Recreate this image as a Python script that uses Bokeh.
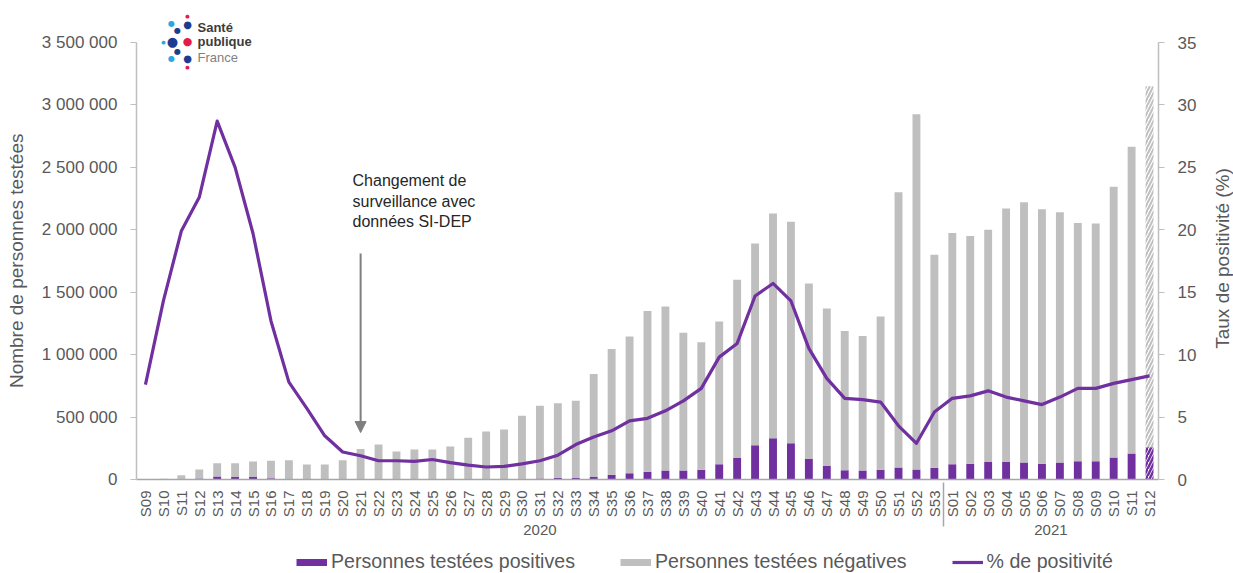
import math
from bokeh.plotting import figure
from bokeh.layouts import column, row
from bokeh.models import (ColumnDataSource, FactorRange, Range1d, LinearAxis, FixedTicker,
                          Legend, LegendItem, Label, Arrow, NormalHead)
from bokeh.embed import file_html
from bokeh.resources import INLINE

# ---------------- data ----------------
weeks_2020 = ["S09", "S10", "S11", "S12", "S13", "S14", "S15", "S16", "S17", "S18",
              "S19", "S20", "S21", "S22", "S23", "S24", "S25", "S26", "S27", "S28",
              "S29", "S30", "S31", "S32", "S33", "S34", "S35", "S36", "S37", "S38",
              "S39", "S40", "S41", "S42", "S43", "S44", "S45", "S46", "S47", "S48",
              "S49", "S50", "S51", "S52", "S53"]
weeks_2021 = ["S01", "S02", "S03", "S04", "S05", "S06", "S07", "S08", "S09", "S10",
              "S11", "S12"]

# total tested persons (positives + negatives)
total_2020 = [3000, 6000, 35000, 80000, 130000, 130000, 145000, 150000, 155000, 120000,
              120000, 155000, 245000, 280000, 225000, 240000, 240000, 265000, 335000, 385000,
              400000, 510000, 590000, 610000, 630000, 845000, 1045000, 1145000, 1350000, 1385000,
              1175000, 1100000, 1265000, 1600000, 1890000, 2130000, 2065000, 1570000, 1370000, 1190000,
              1150000, 1305000, 2300000, 2925000, 1800000]
total_2021 = [1975000, 1950000, 2000000, 2170000, 2220000, 2165000, 2140000, 2055000, 2050000,
              2345000, 2665000, 3150000]

positives_2020 = [200, 800, 3000, 8000, 25000, 20000, 20000, 10000, 5000, 3500,
                  2500, 2500, 3000, 4000, 3500, 3500, 3800, 3500, 3800, 3800,
                  4200, 6400, 8800, 11600, 12000, 20000, 38000, 50000, 62000, 72000,
                  73000, 79000, 122000, 172000, 275000, 330000, 290000, 164000, 108000, 74000,
                  72000, 78000, 96000, 80000, 95000]
positives_2021 = [122000, 126000, 140000, 140000, 136000, 126000, 136000, 146000, 146000,
                  176000, 208000, 258000]

rate_2020 = [7.6, 14.3, 19.9, 22.6, 28.7, 25.0, 19.7, 12.7, 7.8, 5.7,
             3.5, 2.2, 1.9, 1.5, 1.5, 1.45, 1.6, 1.35, 1.15, 1.0,
             1.05, 1.25, 1.5, 1.95, 2.8, 3.4, 3.9, 4.7, 4.9, 5.5,
             6.3, 7.3, 9.8, 10.9, 14.7, 15.7, 14.3, 10.5, 8.1, 6.5,
             6.4, 6.2, 4.3, 2.9, 5.4]
rate_2021 = [6.5, 6.7, 7.1, 6.6, 6.3, 6.0, 6.6, 7.3, 7.3, 7.7, 8.0, 8.3]

left_ticks = [0, 500000, 1000000, 1500000, 2000000, 2500000, 3000000, 3500000]
left_tick_labels = ["0", "500 000", "1 000 000", "1 500 000", "2 000 000",
                    "2 500 000", "3 000 000", "3 500 000"]
right_ticks = [0, 5, 10, 15, 20, 25, 30, 35]
legend_labels = ["Personnes testées positives", "Personnes testées négatives", "% de positivité"]
right_title = "Taux de positivité (%)"

# ---------------- styles / layout ----------------
FONT = "Liberation Sans"
PURPLE = "#7030a0"
GREY_BAR = "#bfbfbf"
TXT = "#595959"
AXIS = "#a6a6a6"
NB = "\u00a0" * 6   # pads the rotated left title so it sits centred on the 0..max span

W, H_MAIN, H_LEG, W_RT = 1233, 549, 24, 30
W_MAIN = W - W_RT
F_LEFT, F_RIGHT, F_TOP, F_BOT = 136, 1158, 10, 479   # frame edges (px)
AX_TOP = 42                                          # pixel of the 3 500 000 / 35 ticks
LEFT_MAX, RIGHT_MAX = left_ticks[-1], right_ticks[-1]
stretch = (F_BOT - F_TOP) / (F_BOT - AX_TOP)
y_end = LEFT_MAX * stretch
r_end = RIGHT_MAX * stretch

factors = [("2020", w) for w in weeks_2020] + [("2021", w) for w in weeks_2021]
totals = total_2020 + total_2021
positives = positives_2020 + positives_2021
negatives = [t - p for t, p in zip(totals, positives)]
rates = rate_2020 + rate_2021

n_full = len(factors) - 1  # last week is provisional (hatched)
src = ColumnDataSource(dict(x=factors[:n_full], pos=positives[:n_full], neg=negatives[:n_full]))
src_last = ColumnDataSource(dict(x=factors[n_full:], pos=positives[n_full:],
                                 tot=totals[n_full:]))
src_rate = ColumnDataSource(dict(x=factors, rate=rates))

p = figure(width=W_MAIN, height=H_MAIN,
           x_range=FactorRange(*factors, factor_padding=0, subgroup_padding=0,
                               group_padding=0, range_padding=0),
           y_range=Range1d(0, y_end),
           output_backend="svg", toolbar_location=None,
           min_border_left=F_LEFT, min_border_right=W_MAIN - F_RIGHT,
           min_border_top=F_TOP, min_border_bottom=H_MAIN - F_BOT)
p.outline_line_color = None
p.xgrid.visible = False
p.ygrid.visible = False
p.extra_y_ranges = {"pct": Range1d(0, r_end)}

BW = 0.44
p.vbar_stack(["pos", "neg"], x="x", width=BW, source=src,
             color=[PURPLE, GREY_BAR], line_color=None)
p.vbar(x="x", bottom=0, top="pos", width=BW, source=src_last, fill_color=None,
       line_color=None, hatch_pattern="/", hatch_color=PURPLE, hatch_weight=2.5, hatch_scale=7)
p.vbar(x="x", bottom="pos", top="tot", width=BW, source=src_last, fill_color=None,
       line_color=None, hatch_pattern="/", hatch_color=GREY_BAR, hatch_weight=2, hatch_scale=7)
p.line(x="x", y="rate", source=src_rate, y_range_name="pct",
       line_color=PURPLE, line_width=3.2, line_join="round")

# left axis
ya = p.yaxis[0]
ya.ticker = FixedTicker(ticks=left_ticks)
ya.major_label_overrides = {t: l for t, l in zip(left_ticks, left_tick_labels)}
ya.axis_label = "Nombre de personnes testées" + NB
ya.bounds = (-(y_end - LEFT_MAX) * 0.999, LEFT_MAX)

# right axis (its title is drawn in the narrow strip to the right)
ra = LinearAxis(y_range_name="pct", ticker=FixedTicker(ticks=right_ticks))
ra.bounds = (-(r_end - RIGHT_MAX) * 0.999, RIGHT_MAX)
p.add_layout(ra, "right")

for ax in (ya, ra):
    ax.axis_line_color = GREY_BAR
    ax.axis_line_width = 1.5
    ax.major_tick_line_color = GREY_BAR
    ax.major_tick_out = 6
    ax.major_tick_in = 0
    ax.minor_tick_line_color = None
    ax.major_label_text_font = FONT
    ax.major_label_text_font_size = "17px"
    ax.major_label_text_color = TXT
    ax.axis_label_text_font = FONT
    ax.axis_label_text_font_size = "19px"
    ax.axis_label_text_font_style = "normal"
    ax.axis_label_text_color = TXT
ya.major_label_standoff = 13
ya.axis_label_standoff = 12
ra.major_label_standoff = 13

xa = p.xaxis[0]
xa.axis_line_color = AXIS
xa.axis_line_width = 1.5
xa.major_tick_line_color = None
xa.minor_tick_line_color = None
xa.major_label_orientation = math.pi / 2
xa.major_label_text_font = FONT
xa.major_label_text_font_size = "15px"
xa.major_label_text_color = TXT
xa.major_label_standoff = 5
xa.group_text_font = FONT
xa.group_text_font_size = "15px"
xa.group_text_font_style = "normal"
xa.group_text_color = TXT
xa.separator_line_color = AXIS
xa.separator_line_width = 1.5

# annotation
xs21 = factors.index(("2020", "S21")) + 0.5
p.add_layout(Label(x=xs21 - 0.45, y=2460000, text="Changement de\nsurveillance avec\ndonnées SI-DEP",
                   text_font=FONT, text_font_size="16px", text_color="#262626",
                   text_baseline="top", text_line_height=1.2))
p.add_layout(Arrow(end=NormalHead(size=11, fill_color="#7f7f7f", line_color="#7f7f7f"),
                   x_start=xs21, y_start=1810000, x_end=xs21, y_end=376000,
                   line_color="#7f7f7f", line_width=2))

# logo (screen units relative to the plot frame's bottom-left corner)
LOGO_DOTS = [(187, 15, 1.5, "#e6194b"), (187, 24, 3, "#1d3c8f"), (171, 23, 2.5, "#29a8e0"),
             (177, 30, 2.5, "#1d3c8f"), (163, 41, 1.5, "#29a8e0"), (172, 41, 4, "#1d3c8f"),
             (187, 41, 3.5, "#e6194b"), (177, 51, 2.5, "#1d3c8f"), (171, 58, 2.5, "#29a8e0"),
             (187, 58, 3, "#1d3c8f"), (187, 66, 1.5, "#e6194b")]
for (X, Y, r, c) in LOGO_DOTS:
    p.add_layout(Label(x=X - F_LEFT, y=F_BOT - Y, x_units="screen", y_units="screen", text="●",
                       text_align="center", text_baseline="middle", text_font="DejaVu Sans",
                       text_font_size="%dpx" % round(2 * r / 0.62), text_color=c))
for (txt, Y, style, col) in [("Santé", 27, "bold", "#3c3c3c"), ("publique", 41, "bold", "#3c3c3c"),
                             ("France", 57, "normal", "#7f7f7f")]:
    p.add_layout(Label(x=197 - F_LEFT, y=F_BOT - Y, x_units="screen", y_units="screen", text=txt,
                       text_baseline="middle", text_font=FONT, text_font_size="13px",
                       text_font_style=style, text_color=col))

# ---------------- right title strip ----------------
rf = figure(width=W_RT, height=H_MAIN, x_range=Range1d(0, 1), y_range=Range1d(0, 1),
            output_backend="svg", toolbar_location=None,
            min_border_left=0, min_border_right=0,
            min_border_top=F_TOP, min_border_bottom=H_MAIN - F_BOT)
rf.axis.visible = False
rf.grid.visible = False
rf.outline_line_color = None
rf.add_layout(Label(x=1222 - W_MAIN, y=F_BOT - 258, x_units="screen", y_units="screen",
                    text=right_title, angle=math.pi / 2, text_align="center",
                    text_baseline="middle", text_font=FONT, text_font_size="19px",
                    text_color=TXT))

# ---------------- legend strip ----------------
lf = figure(width=W, height=H_LEG, x_range=Range1d(0, 1), y_range=Range1d(0, 1),
            output_backend="svg", toolbar_location=None,
            min_border_left=F_LEFT, min_border_right=W - F_RIGHT,
            min_border_top=0, min_border_bottom=0)
lf.axis.visible = False
lf.grid.visible = False
lf.outline_line_color = None
# swatch renderers kept outside the visible range; only their legend glyphs show
k1 = lf.line(x=[5, 6], y=[5, 5], line_color=PURPLE, line_width=7, line_cap="butt")
k2 = lf.line(x=[5, 6], y=[5, 5], line_color=GREY_BAR, line_width=7, line_cap="butt")
k3 = lf.line(x=[5, 6], y=[5, 5], line_color=PURPLE, line_width=3.2)
legend = Legend(items=[LegendItem(label=legend_labels[0], renderers=[k1]),
                       LegendItem(label=legend_labels[1], renderers=[k2]),
                       LegendItem(label=legend_labels[2], renderers=[k3])],
                orientation="horizontal", location=(296 - F_LEFT, 0),
                label_text_font=FONT, label_text_font_size="19.6px", label_text_color=TXT,
                glyph_width=31, glyph_height=22, label_height=22, spacing=45, label_standoff=4,
                border_line_color=None, background_fill_alpha=0, padding=0, margin=0)
lf.add_layout(legend)

layout = column(row(p, rf, spacing=0), lf, spacing=0)
open("out.html", "w").write(file_html(layout, INLINE))
